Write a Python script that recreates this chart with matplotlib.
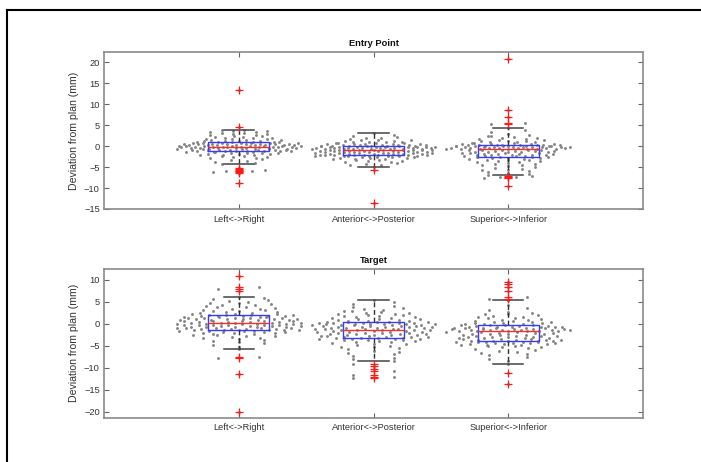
import numpy as np
import matplotlib
matplotlib.use("Agg")
import matplotlib.pyplot as plt
from matplotlib.lines import Line2D

plt.rcParams['font.family'] = ['Liberation Sans', 'DejaVu Sans']

categories = ["Left<->Right", "Anterior<->Posterior", "Superior<->Inferior"]
panel_titles = ["Entry Point", "Target"]
y_label = "Deviation from plan (mm)"
top_yticks = [-15, -10, -5, 0, 5, 10, 15, 20]
bottom_yticks = [-20, -15, -10, -5, 0, 5, 10]

entry_lr = [-8.7, -6.4, -6.2, -6.0, -5.9, -5.7, -5.5, -5.2,
            -4.3, -4.0, -3.8, -3.5, -3.3, -3.1, -2.9, -2.8, -2.6, -2.5, -2.4, -2.3, -2.2, -2.1, -2.0,
            -1.9, -1.85, -1.8, -1.7, -1.65, -1.6, -1.55, -1.5, -1.45, -1.4, -1.35, -1.28,
            -1.26, -1.22, -1.18, -1.15, -1.1, -1.07, -1.03, -1.0, -0.96, -0.93, -0.9, -0.86, -0.82,
            -0.79, -0.75, -0.72, -0.69, -0.65, -0.62, -0.58, -0.55, -0.52, -0.49, -0.45, -0.42,
            -0.39, -0.36, -0.33, -0.3, -0.27, -0.25, -0.22, -0.2, -0.18, -0.16,
            -0.14, -0.11, -0.08, -0.05, -0.02, 0.0, 0.03, 0.06, 0.09, 0.12, 0.15, 0.18, 0.21, 0.24,
            0.27, 0.3, 0.33, 0.36, 0.39, 0.42, 0.45, 0.48, 0.51, 0.54, 0.57, 0.6, 0.63, 0.66, 0.69,
            0.72, 0.75, 0.79, 0.83, 0.87, 0.9,
            0.92, 0.97, 1.02, 1.08, 1.13, 1.2, 1.26, 1.33, 1.4, 1.47, 1.55, 1.62, 1.7, 1.78, 1.86,
            1.95, 2.05, 2.15, 2.25, 2.35, 2.45, 2.55, 2.67, 2.8, 2.92, 3.05, 3.18, 3.3, 3.42, 3.55,
            3.67, 3.8, 3.9, 4.5, 13.3]

entry_ap = [-13.6, -5.7,
            -4.87, -4.6, -4.4, -4.2, -4.0, -3.85, -3.7, -3.55, -3.45, -3.35, -3.25, -3.15, -3.05,
            -2.97, -2.9, -2.83, -2.76, -2.7, -2.64, -2.58, -2.52, -2.47, -2.42, -2.38, -2.34, -2.3,
            -2.27, -2.24, -2.21, -2.19, -2.17, -2.15, -2.14,
            -2.12, -2.08, -2.04, -2.0, -1.97, -1.93, -1.9, -1.86, -1.83, -1.79, -1.76, -1.72, -1.69,
            -1.65, -1.62, -1.58, -1.55, -1.51, -1.48, -1.44, -1.41, -1.37, -1.34, -1.3, -1.27, -1.23,
            -1.2, -1.16, -1.13, -1.1, -1.07, -1.04, -1.01, -0.98, -0.95,
            -0.93, -0.9, -0.87, -0.84, -0.81, -0.78, -0.75, -0.72, -0.69, -0.66, -0.63, -0.6, -0.57,
            -0.54, -0.51, -0.48, -0.45, -0.42, -0.4, -0.37, -0.34, -0.31, -0.28, -0.25, -0.23, -0.2,
            -0.17, -0.15, -0.12, -0.1, -0.07, -0.05, -0.02, 0.0, 0.03,
            0.05, 0.08, 0.11, 0.14, 0.17, 0.2, 0.24, 0.28, 0.32, 0.36, 0.4, 0.45, 0.5, 0.55, 0.6,
            0.65, 0.7, 0.76, 0.82, 0.88, 0.95, 1.02, 1.1, 1.18, 1.27, 1.36, 1.46, 1.57, 1.7, 1.85,
            2.0, 2.2, 2.45, 2.75, 3.1]

entry_si = [-9.6, -7.5, -7.4, -7.3, -7.2,
            -6.8, -6.6, -6.4, -6.2, -6.0, -5.8, -5.6, -5.4, -5.2, -5.0, -4.8, -4.6, -4.45, -4.3,
            -4.15, -4.0, -3.85, -3.7, -3.6, -3.5, -3.4, -3.3, -3.2, -3.1, -3.0, -2.9, -2.8, -2.72,
            -2.66, -2.62,
            -2.59, -2.53, -2.47, -2.41, -2.35, -2.29, -2.23, -2.17, -2.12, -2.06, -2.0, -1.95, -1.89,
            -1.84, -1.78, -1.73, -1.67, -1.62, -1.56, -1.51, -1.45, -1.4, -1.34, -1.29, -1.24, -1.19,
            -1.14, -1.09, -1.04, -0.99, -0.94, -0.89, -0.84, -0.78, -0.71,
            -0.69, -0.66, -0.63, -0.6, -0.57, -0.54, -0.51, -0.48, -0.45, -0.42, -0.39, -0.36, -0.33,
            -0.3, -0.27, -0.24, -0.21, -0.19, -0.16, -0.13, -0.1, -0.08, -0.05, -0.02, 0.0, 0.03,
            0.06, 0.08, 0.11, 0.13, 0.16, 0.18, 0.21, 0.23, 0.26,
            0.28, 0.33, 0.38, 0.44, 0.5, 0.56, 0.62, 0.69, 0.76, 0.83, 0.9, 0.98, 1.06, 1.14, 1.23,
            1.32, 1.42, 1.52, 1.63, 1.75, 1.88, 2.02, 2.17, 2.33, 2.5, 2.7, 2.95, 3.3, 3.8, 4.25,
            5.2, 5.4, 7.0, 8.5, 20.7]

target_lr = [-20.1, -11.35, -7.7, -7.5,
             -5.74, -5.2, -4.8, -4.5, -4.2, -3.95, -3.7, -3.5, -3.3, -3.15, -3.0, -2.85, -2.7, -2.6,
             -2.5, -2.4, -2.3, -2.2, -2.12, -2.04, -1.96, -1.89, -1.82, -1.76, -1.7, -1.64, -1.59,
             -1.54, -1.5, -1.46, -1.43,
             -1.4, -1.35, -1.3, -1.25, -1.2, -1.15, -1.1, -1.05, -1.0, -0.95, -0.9, -0.85, -0.8,
             -0.75, -0.7, -0.65, -0.6, -0.55, -0.5, -0.45, -0.41, -0.37, -0.33, -0.29, -0.25, -0.21,
             -0.17, -0.13, -0.09, -0.05, -0.01, 0.03, 0.07, 0.12, 0.17,
             0.19, 0.24, 0.29, 0.34, 0.39, 0.44, 0.49, 0.54, 0.59, 0.64, 0.69, 0.74, 0.79, 0.84,
             0.89, 0.94, 0.99, 1.04, 1.09, 1.14, 1.19, 1.24, 1.29, 1.34, 1.39, 1.44, 1.49, 1.54,
             1.59, 1.64, 1.69, 1.74, 1.78, 1.82, 1.86,
             1.89, 1.95, 2.02, 2.1, 2.18, 2.27, 2.36, 2.46, 2.56, 2.67, 2.78, 2.9, 3.02, 3.15, 3.28,
             3.42, 3.56, 3.7, 3.85, 4.0, 4.15, 4.3, 4.45, 4.6, 4.75, 4.9, 5.1, 5.3, 5.5, 5.8, 6.1,
             7.5, 7.9, 8.4, 10.8]

target_ap = [-12.4, -12.0, -11.6, -10.8, -10.2, -9.7, -9.1,
             -8.54, -8.1, -7.7, -7.3, -7.0, -6.7, -6.4, -6.1, -5.85, -5.6, -5.4, -5.2, -5.0, -4.85,
             -4.7, -4.55, -4.4, -4.27, -4.15, -4.03, -3.92, -3.82, -3.73, -3.64, -3.56, -3.49,
             -3.43, -3.39,
             -3.35, -3.29, -3.23, -3.17, -3.11, -3.05, -2.99, -2.93, -2.87, -2.81, -2.75, -2.69,
             -2.63, -2.57, -2.51, -2.45, -2.39, -2.33, -2.27, -2.21, -2.15, -2.09, -2.03, -1.97,
             -1.91, -1.85, -1.79, -1.73, -1.67, -1.61, -1.55, -1.49, -1.43, -1.38, -1.34,
             -1.32, -1.27, -1.22, -1.17, -1.12, -1.07, -1.02, -0.97, -0.92, -0.87, -0.82, -0.77,
             -0.72, -0.67, -0.62, -0.57, -0.52, -0.47, -0.42, -0.37, -0.32, -0.27, -0.22, -0.18,
             -0.14, -0.1, -0.06, -0.02, 0.02, 0.06, 0.1, 0.14, 0.18, 0.22, 0.27,
             0.3, 0.36, 0.42, 0.48, 0.55, 0.62, 0.7, 0.78, 0.86, 0.95, 1.04, 1.13, 1.22, 1.32, 1.42,
             1.52, 1.63, 1.74, 1.86, 1.98, 2.1, 2.23, 2.37, 2.5, 2.65, 2.8, 2.95, 3.1, 3.3, 3.5,
             3.75, 4.0, 4.4, 4.9, 5.42]

target_si = [-13.8, -11.1,
             -9.15, -8.5, -8.0, -7.6, -7.2, -6.9, -6.6, -6.35, -6.1, -5.9, -5.7, -5.55, -5.4, -5.27,
             -5.15, -5.05, -4.95, -4.86, -4.78, -4.7, -4.63, -4.56, -4.5, -4.44, -4.38, -4.32,
             -4.27, -4.22, -4.17, -4.12, -4.08, -4.04, -4.01,
             -3.97, -3.9, -3.84, -3.78, -3.72, -3.66, -3.6, -3.54, -3.48, -3.42, -3.36, -3.3, -3.24,
             -3.18, -3.12, -3.06, -3.0, -2.94, -2.88, -2.82, -2.76, -2.7, -2.64, -2.58, -2.52,
             -2.46, -2.4, -2.34, -2.28, -2.22, -2.16, -2.1, -2.0, -1.9, -1.79,
             -1.77, -1.73, -1.69, -1.65, -1.61, -1.57, -1.53, -1.49, -1.45, -1.41, -1.37, -1.33,
             -1.29, -1.25, -1.21, -1.17, -1.13, -1.09, -1.05, -1.01, -0.97, -0.93, -0.89, -0.85,
             -0.81, -0.77, -0.73, -0.69, -0.65, -0.6, -0.55, -0.49, -0.42, -0.35, -0.27,
             -0.24, -0.18, -0.11, -0.04, 0.04, 0.12, 0.2, 0.29, 0.38, 0.48, 0.58, 0.69, 0.8, 0.92,
             1.04, 1.17, 1.3, 1.45, 1.6, 1.76, 1.93, 2.1, 2.3, 2.5, 2.75, 3.05, 3.5, 4.3, 5.28,
             5.6, 6.1, 7.5, 8.4, 8.9, 9.5]

panels = [
    dict(data=[entry_lr, entry_ap, entry_si], ylim=(-15, 22.45), yticks=top_yticks),
    dict(data=[target_lr, target_ap, target_si], ylim=(-21.3, 12.4), yticks=bottom_yticks),
]


def spread_offsets(vals, bw=0.8, half=0.46):
    """Deterministic spread layout: each value band is spread sideways with a
    width that grows with the number of values in the band."""
    vals = np.asarray(vals, dtype=float)
    bins = np.floor((vals - vals.min()) / bw).astype(int)
    counts = np.bincount(bins)
    nmax = counts.max()
    off = np.zeros(len(vals))
    for b in np.unique(bins):
        idx = np.where(bins == b)[0]
        n = len(idx)
        if n == 1:
            continue
        width = half * np.sqrt(n / nmax)
        slots = np.linspace(-width, width, n)
        order = np.argsort((np.arange(n) * 0.6180339) % 1.0)
        off[idx[order]] = slots
    return off


W, H = 701, 462
fig = plt.figure(figsize=(W / 100, H / 100), dpi=100)
fig.patch.set_facecolor('white')

# axes rectangles in pixel terms (left, top, right, bottom)
rects = [(104, 52, 643, 209), (104, 269, 643, 417.5)]
positions = [1, 2, 3]

for p, (l, t, r, b), title in zip(panels, rects, panel_titles):
    ax = fig.add_axes([l / W, 1 - b / H, (r - l) / W, (b - t) / H])
    for pos, vals in zip(positions, p['data']):
        off = spread_offsets(vals)
        ax.plot(pos + off, vals, 'o', color='#858585', markersize=2.1,
                markeredgewidth=0, zorder=1)
    ax.boxplot(p['data'], positions=positions, widths=0.45, whis=1.5,
               manage_ticks=False, zorder=2,
               boxprops=dict(color='#3a3aff', linewidth=1.0),
               medianprops=dict(color='#ff2a2a', linewidth=1.0),
               whiskerprops=dict(color='#333333', linestyle=(0, (3.5, 2.0)), linewidth=1.0),
               capprops=dict(color='#444444', linewidth=1.1),
               flierprops=dict(marker='+', markeredgecolor='#ff1a1a', markersize=6,
                               markeredgewidth=0.9, linestyle='none'))
    ax.set_xlim(0, 4)
    ax.set_ylim(*p['ylim'])
    ax.set_xticks(positions)
    ax.set_xticklabels(categories)
    ax.set_yticks(p['yticks'])
    ax.tick_params(direction='in', top=True, right=True, length=3.5, width=0.8,
                   color='#666666', labelcolor='#333333', labelsize=6.7, pad=3)
    ax.tick_params(axis='x', pad=4)
    for s in ax.spines.values():
        s.set_color('#8a8a8a')
        s.set_linewidth(1.2)
    ax.set_title(title, fontsize=6.7, fontweight='bold', color='#111111', pad=4)
    ax.set_ylabel(y_label, fontsize=7.6, color='#333333')
    ax.yaxis.set_label_coords((79 - l) / (r - l), 0.5)

# outer frame of the original figure window (cropped)
fig.add_artist(Line2D([7 / W, 1.0], [1 - 10 / H, 1 - 10 / H], color='black',
                      linewidth=1.5, transform=fig.transFigure))
fig.add_artist(Line2D([7 / W, 7 / W], [0.0, 1 - 10 / H], color='black',
                      linewidth=1.5, transform=fig.transFigure))

fig.savefig('out.png', dpi=100, facecolor='white')
